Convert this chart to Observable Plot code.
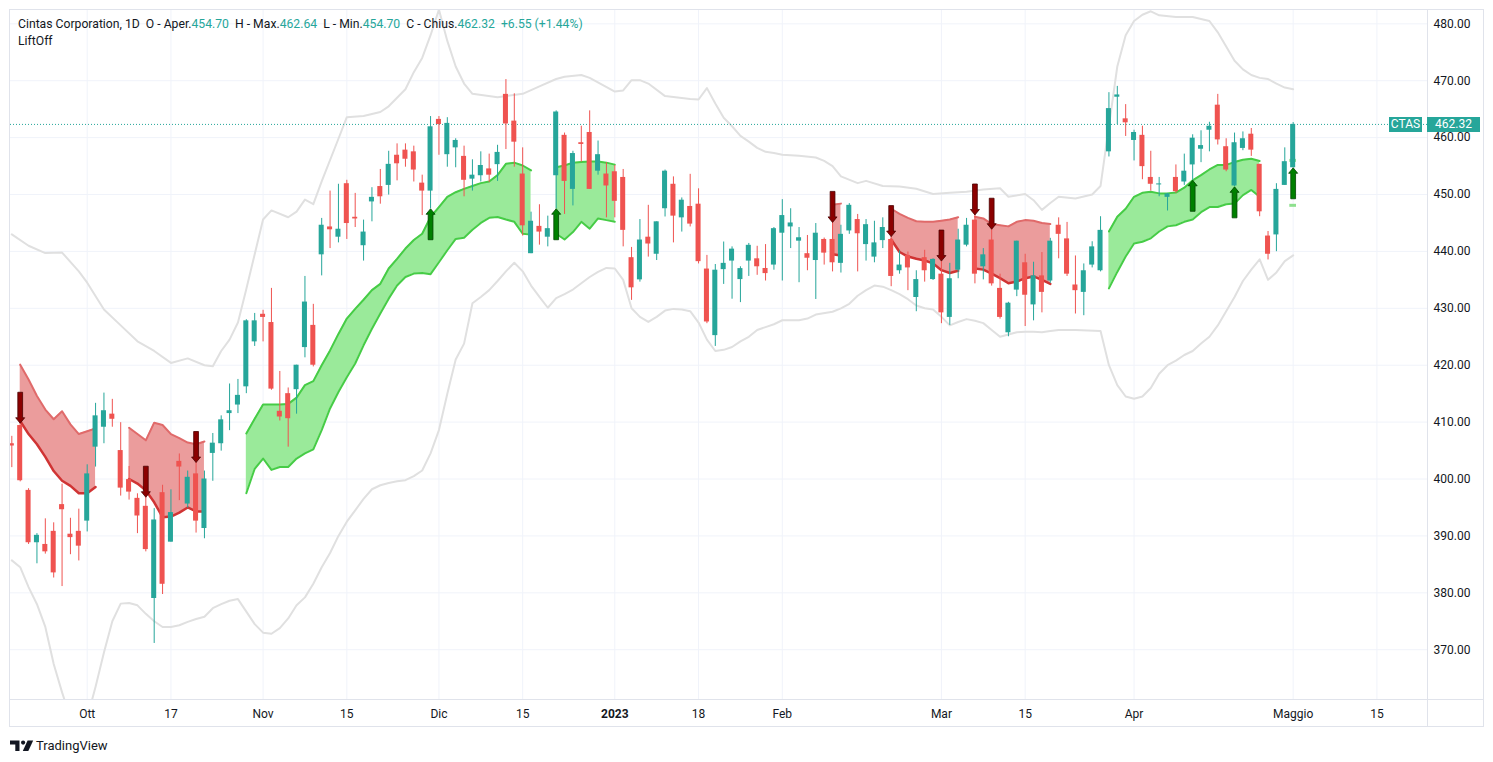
<!DOCTYPE html>
<html>
<head>
<meta charset="utf-8">
<script src="https://cdn.jsdelivr.net/npm/d3@7"></script>
<script src="https://cdn.jsdelivr.net/npm/@observablehq/plot@0.6"></script>
<style>
  html, body { margin: 0; padding: 0; background: #ffffff; }
  body { font-family: Roboto, "Liberation Sans", sans-serif; color: #131722; }
  #wrap { position: relative; width: 1493px; height: 762px; overflow: hidden; }
  #chart { position: absolute; left: 0; top: 0; }
  .ov { position: absolute; }
  #legend { left: 18px; top: 16px; font-size: 12.2px; line-height: 17px; white-space: pre; }
  #legend .v { color: #26a69a; }
  .lbl { background: #26a69a; color: #fff; font-size: 12px; height: 15px; line-height: 15px; text-align: center; top: 117px; }
  .hl { background: #e0e3eb; }
  #logo { left: 10px; top: 738px; display: flex; align-items: center; font-size: 13px; }
</style>
</head>
<body>
<div id="wrap">
  <div id="chart"></div>
  <div class="ov hl" style="left:9px;top:9px;width:1475px;height:1px"></div>
  <div class="ov hl" style="left:9px;top:726px;width:1475px;height:1px"></div>
  <div class="ov hl" style="left:9px;top:9px;width:1px;height:718px"></div>
  <div class="ov hl" style="left:1483px;top:9px;width:1px;height:718px"></div>
  <div class="ov hl" style="left:1427px;top:9px;width:1px;height:718px"></div>
  <div class="ov hl" style="left:9px;top:699px;width:1475px;height:1px"></div>
  <div id="legend" class="ov"></div>
  <div id="symLbl" class="ov lbl" style="left:1389px;width:33px"></div>
  <div id="priceLbl" class="ov lbl" style="left:1427px;width:53px"></div>
  <div id="logo" class="ov">
    <svg width="24" height="12" viewBox="0 0 24 12"><path d="M0 0.5h9.5v10.5H5.3V4.4H0z" fill="#131722"/><circle cx="13.1" cy="2.6" r="2.1" fill="#131722"/><path d="M17.6 0.5H23.2L18.3 11H12.8z" fill="#131722"/></svg>
    <span style="margin-left:2px">TradingView</span>
  </div>
</div>
<script>
// ---------- sessions (trading days) ----------
const sessionMonths = [
  ["2022-09", "20 21 22 23 26 27 28 29 30"],
  ["2022-10", "3 4 5 6 7 10 11 12 13 14 17 18 19 20 21 24 25 26 27 28 31"],
  ["2022-11", "1 2 3 4 7 8 9 10 11 14 15 16 17 18 21 22 23 25 28 29 30"],
  ["2022-12", "1 2 5 6 7 8 9 12 13 14 15 16 19 20 21 22 23 27 28 29 30"],
  ["2023-01", "3 4 5 6 9 10 11 12 13 17 18 19 20 23 24 25 26 27 30 31"],
  ["2023-02", "1 2 3 6 7 8 9 10 13 14 15 16 17 21 22 23 24 27 28"],
  ["2023-03", "1 2 3 6 7 8 9 10 13 14 15 16 17 20 21 22 23 24 27 28 29 30 31"],
  ["2023-04", "3 4 5 6 10 11 12 13 14 17 18 19 20 21 24 25 26 27 28"],
  ["2023-05", "1"]
];
const futureSessions = [["2023-05", "2 3 4 5 8 9 10 11 12 15"]];
const expand = list => list.flatMap(([m, days]) => days.split(" ").map(d => `${m}-${d.padStart(2, "0")}`));
const dates = expand(sessionMonths);
const axisDates = dates.concat(expand(futureSessions));
const anchorDate = "2022-10-03";
const offset = axisDates.indexOf(anchorDate);
const sessionOf = new Map(axisDates.map((d, k) => [d, k - offset]));

// ---------- OHLC (Sep 20 2022 .. May 1 2023) ----------
const opens = [
  406.2, 409.4, 398.0, 388.8, 388.5, 390.8, 395.5, 390.3, 390.8,
  392.6, 405.6, 409.1, 411.4, 405.0, 399.9, 396.6, 395.2, 379.0, 397.6,
  388.9, 403.1, 395.6, 400.9, 391.3, 404.5, 406.2, 411.5, 413.0, 416.2,
  424.1, 428.95, 427.5, 411.9, 415.0, 415.7, 423.1, 427.0, 439.4, 444.3,
  442.5, 451.9, 446.0, 441.0, 448.7, 451.4, 451.6, 456.9, 457.8, 457.5,
  452.0, 450.6, 463.2, 457.0, 458.2, 456.7, 452.7, 453.3, 454.5, 455.25,
  467.6, 462.9, 453.6, 439.6, 444.4, 442.5, 453.3, 460.4, 450.9, 459.1,
  460.9, 454.1, 453.6, 454.0, 453.0, 438.9, 435.0, 442.5, 439.5, 447.5,
  451.8, 445.9, 447.9, 448.3, 436.9, 425.2, 436.8, 438.3, 435.05, 438.3,
  438.7, 437.0, 437.6, 443.2, 444.3, 441.8, 439.6, 438.4, 442.1, 442.1,
  437.9, 443.6, 445.6, 441.2, 439.0, 441.9, 442.1, 436.6, 439.3, 431.9,
  438.9, 435.05, 436.0, 428.4, 436.7, 441.1, 445.5, 437.3, 442.0, 433.5,
  425.7, 433.2, 438.0, 430.6, 435.7, 434.8, 444.6, 442.2, 434.1, 432.8,
  437.6, 436.6, 457.5, 467.1, 463.3, 459.5, 460.4, 453.0, 451.7, 449.5,
  453.0, 452.2, 455.2, 457.96, 461.3, 465.7, 458.4, 451.5, 458.1, 460.6,
  455.3, 442.7, 442.9, 451.6, 454.70
];
const highs = [
  407.5, 409.8, 398.3, 390.4, 393.0, 392.3, 399.1, 393.1, 394.7,
  402.5, 413.3, 415.1, 414.0, 409.9, 402.2, 397.4, 396.8, 394.8, 398.9,
  398.1, 404.4, 401.4, 402.9, 401.4, 408.0, 411.1, 416.7, 417.5, 428.0,
  429.1, 429.65, 433.5, 418.9, 416.0, 420.0, 435.6, 430.7, 445.8, 450.6,
  451.8, 452.5, 450.2, 445.5, 451.2, 454.4, 457.6, 458.9, 458.9, 458.5,
  453.4, 463.7, 463.7, 463.5, 459.8, 458.5, 456.1, 457.5, 457.1, 458.65,
  470.2, 467.7, 458.2, 446.9, 448.2, 446.2, 464.7, 460.8, 457.6, 462.0,
  464.7, 459.4, 455.6, 455.1, 454.4, 440.7, 445.6, 448.1, 445.2, 454.3,
  453.1, 449.4, 453.55, 451.0, 439.3, 437.7, 441.65, 440.8, 437.3, 441.4,
  440.9, 441.2, 444.2, 449.1, 447.5, 444.2, 442.8, 444.9, 442.35, 445.1,
  444.6, 448.4, 446.5, 445.6, 445.3, 445.9, 442.6, 440.1, 439.9, 436.6,
  440.2, 438.7, 438.3, 437.9, 443.9, 445.8, 446.4, 440.5, 443.9, 436.0,
  431.06, 441.8, 439.5, 438.1, 439.8, 442.3, 445.9, 445.1, 439.2, 437.8,
  441.7, 446.1, 467.9, 469.0, 465.8, 461.3, 462.0, 457.6, 453.0, 450.2,
  455.2, 457.1, 460.5, 461.2, 462.7, 467.6, 459.8, 460.8, 461.0, 461.6,
  455.3, 443.5, 451.9, 458.2, 462.64
];
const lows = [
  402.0, 399.5, 388.5, 385.1, 386.8, 382.6, 381.1, 386.7, 385.6,
  390.7, 402.1, 406.2, 409.1, 397.0, 396.3, 390.4, 387.2, 371.1, 379.7,
  388.9, 396.2, 394.9, 390.5, 389.5, 399.6, 404.9, 408.5, 411.5, 415.0,
  423.3, 424.1, 415.6, 410.2, 405.6, 411.4, 421.3, 419.7, 435.7, 440.5,
  441.5, 442.1, 444.2, 438.3, 445.2, 448.3, 449.9, 452.4, 454.8, 452.2,
  446.3, 447.5, 456.9, 454.8, 454.7, 449.6, 450.6, 452.2, 452.1, 452.3,
  457.9, 454.8, 442.7, 439.6, 441.1, 440.8, 447.5, 446.5, 448.0, 455.7,
  450.9, 453.4, 445.9, 445.9, 440.8, 431.4, 434.6, 439.0, 438.4, 446.05,
  441.5, 443.4, 444.3, 437.8, 427.3, 423.3, 434.2, 431.6, 431.0, 435.6,
  435.8, 434.8, 436.7, 434.8, 440.5, 434.5, 436.6, 431.55, 437.6, 436.4,
  436.2, 443.0, 436.4, 438.3, 438.0, 440.5, 433.8, 436.0, 433.1, 429.4,
  434.6, 434.9, 427.3, 427.0, 435.2, 440.8, 434.3, 435.0, 433.9, 428.1,
  425.0, 432.05, 426.8, 427.8, 429.2, 434.4, 438.7, 435.6, 429.0, 428.7,
  437.1, 436.4, 456.6, 462.3, 460.2, 455.9, 452.6, 450.6, 449.6, 447.1,
  450.2, 451.6, 452.5, 455.6, 457.5, 458.7, 454.0, 451.35, 457.7, 456.7,
  446.1, 438.5, 439.95, 451.6, 454.70
];
const closes = [
  405.8, 399.7, 388.8, 390.1, 387.2, 383.5, 394.6, 389.7, 388.2,
  400.9, 411.1, 412.0, 410.5, 398.4, 397.7, 393.5, 387.6, 392.8, 381.5,
  394.1, 402.1, 400.3, 392.6, 400.0, 406.3, 410.4, 412.0, 414.7, 427.8,
  427.8, 428.4, 415.8, 410.9, 410.6, 420.0, 431.1, 420.0, 444.6, 443.8,
  443.9, 444.9, 445.7, 443.4, 449.5, 449.6, 455.3, 455.4, 456.2, 454.3,
  450.6, 461.9, 462.3, 462.5, 459.5, 452.5, 453.4, 455.1, 453.4, 457.4,
  462.4, 459.2, 444.5, 445.3, 443.4, 444.0, 464.5, 452.3, 457.2, 458.8,
  450.9, 457.0, 451.5, 448.8, 443.7, 433.6, 442.0, 441.3, 445.2, 454.1,
  446.2, 449.0, 444.8, 438.2, 427.6, 436.7, 437.9, 440.4, 436.98, 441.07,
  437.3, 436.1, 444.0, 446.3, 445.0, 442.4, 438.8, 443.2, 439.7, 438.0,
  443.0, 448.1, 443.1, 444.7, 441.5, 444.2, 435.6, 437.6, 437.1, 435.05,
  436.6, 438.6, 429.2, 435.2, 442.0, 444.6, 436.0, 439.4, 434.3, 428.4,
  430.9, 441.8, 432.3, 435.7, 432.8, 441.8, 443.0, 436.0, 433.1, 436.6,
  440.8, 443.7, 465.1, 467.5, 462.6, 460.9, 454.9, 451.8, 451.85, 450.1,
  450.5, 454.1, 459.9, 458.6, 462.0, 459.6, 454.3, 459.1, 459.8, 457.8,
  446.96, 439.5, 450.9, 455.77, 462.32
];

// ---------- grey envelope: [session offset from 2022-10-03, price] ----------
const upperEnvelope = [
  [-9,443.0],[-7,441.0],[-5,439.7],[-3,439.8],[-1,436.5],[0,434.5],[2,429.8],[4,427.0],[6,424.2],[8,422.5],
  [10,420.4],[12,421.2],[14,420.0],[15,419.8],[16,422.5],[17,424.5],[18,427.5],[19,433.4],[20,439.5],[21,445.6],
  [22,447.2],[24,446.0],[25,447.0],[26,449.1],[27,448.3],[28,452.3],[30,459.8],[31,463.6],[33,463.8],[35,464.5],
  [36,465.5],[37,467.0],[38,468.5],[39,471.5],[40,474.0],[41,478.0],[42,482.5],[43,477.0],[44,472.5],[45,469.5],
  [46,467.7],[49,467.1],[52,467.7],[54,469.0],[56,470.3],[57,470.7],[59,471.0],[60,470.5],[63,468.1],[64,468.3],
  [65,470.1],[66,470.1],[67,469.5],[69,467.3],[72,466.8],[73,466.7],[74,468.7],[75,466.0],[76,463.5],[77,462.0],
  [78,460.3],[79,459.3],[80,458.2],[81,457.5],[82,457.3],[83,457.0],[85,456.8],[87,456.5],[88,455.9],[89,455.0],
  [90,453.2],[92,452.0],[93,452.4],[95,451.5],[97,451.4],[99,451.0],[101,450.1],[103,450.3],[105,450.5],[107,450.9],
  [109,451.1],[110,449.6],[112,450.1],[113,449.0],[114,447.3],[115,448.5],[116,449.6],[118,449.3],[120,450.0],[121,451.5],
  [122,462.0],[123,472.5],[124,478.0],[125,480.5],[126,481.6],[127,482.2],[128,481.5],[130,481.2],[132,481.2],[134,480.5],
  [135,478.5],[136,476.0],[137,473.5],[138,472.0],[139,471.0],[140,470.5],[141,470.3],[142,469.5],[143,468.8],[144,468.5]
];
const lowerEnvelope = [
  [-9,385.7],[-8,384.5],[-7,381.0],[-6,378.0],[-5,374.0],[-4,367.5],[-3,362.5],[-2,358.0],[-1,356.0],[0,358.0],
  [1,363.5],[2,369.5],[3,375.0],[4,378.1],[5,378.2],[6,377.8],[7,376.3],[8,375.0],[9,374.0],[10,374.0],
  [11,374.3],[12,374.9],[13,375.4],[14,375.8],[15,377.3],[16,378.0],[17,378.6],[18,378.9],[19,376.7],[20,374.5],
  [21,373.0],[22,372.8],[23,373.8],[24,375.5],[25,377.8],[26,379.2],[27,381.6],[28,384.5],[29,387.0],[30,390.0],
  [31,392.5],[32,394.5],[33,396.5],[34,398.2],[35,398.9],[36,399.3],[37,399.6],[38,399.8],[39,400.5],[40,401.5],
  [41,404.5],[42,408.6],[43,415.0],[44,421.0],[45,423.8],[46,430.9],[47,432.0],[48,433.2],[49,434.8],[50,436.5],
  [51,438.0],[52,436.5],[53,434.0],[54,432.0],[55,430.1],[56,431.8],[57,432.5],[58,433.3],[59,434.4],[60,435.5],
  [61,436.4],[62,437.1],[63,437.0],[64,435.0],[65,430.0],[66,428.5],[67,427.6],[68,428.5],[69,429.6],[70,429.9],
  [71,429.8],[72,429.5],[73,427.5],[74,424.5],[75,422.5],[76,422.7],[77,423.2],[78,424.2],[79,425.0],[80,426.2],
  [81,426.7],[82,427.2],[83,427.9],[85,427.9],[86,428.2],[87,428.9],[89,429.4],[90,430.0],[91,430.8],[92,432.2],
  [93,433.2],[94,434.0],[95,433.8],[96,433.2],[97,432.5],[98,431.6],[99,430.5],[100,430.0],[101,429.8],[102,428.5],
  [103,427.0],[104,427.6],[105,428.1],[106,427.8],[107,427.4],[108,426.2],[109,425.0],[110,425.4],[111,425.8],[112,425.9],
  [113,425.9],[114,425.8],[115,426.0],[116,426.2],[118,426.2],[121,426.0],[122,420.0],[123,416.5],[124,414.5],[125,414.1],
  [126,414.5],[127,416.0],[128,418.5],[129,420.0],[130,420.8],[131,421.8],[132,422.5],[133,423.8],[134,425.0],[135,427.0],
  [136,429.5],[137,432.0],[138,434.8],[139,436.8],[140,438.6],[141,435.0],[142,436.3],[143,438.3],[144,439.3]
];

// ---------- LiftOff bands ----------
const redBands = [
  { start: "2022-09-21", upper: [420.1,417.5,414.6,412.2,410.5,411.9,409.6,407.9,408.4,408.9], lower: [410.2,407.9,406.1,403.9,401.4,399.7,398.8,397.5,397.5,398.6] },
  { start: "2022-10-10", upper: [409.0,407.9,406.8,409.9,409.5,407.9,407.2,406.4,406.1,406.6], lower: [400.0,399.2,398.0,395.9,393.3,393.4,394.1,395.0,394.3,394.3] },
  { start: "2023-02-09", upper: [448.2,448.4], lower: [439.5,439.3] },
  { start: "2023-02-21", upper: [447.5,446.6,445.9,445.3,445.2,445.2,445.4,445.6,446.0], lower: [442.1,439.9,439.1,438.7,438.4,437.9,436.7,436.2,436.6] },
  { start: "2023-03-07", upper: [446.1,445.8,444.8,444.6,444.4,445.2,445.5,445.4,445.0,444.8], lower: [437.0,436.8,436.1,435.3,434.4,434.7,435.3,435.6,435.0,434.3] }
];
const greenBands = [
  { start: "2022-10-28",
    upper: [408.0,410.6,413.1,413.1,413.1,413.2,414.3,416.5,417.2,420.0,422.6,425.5,428.2,429.9,431.5,433.2,434.3,437.0,438.7,440.5,442.0,443.1,446.05,447.8,449.6,450.4,451.0,451.5,452.0,452.3,453.4,455.4,455.6,455.1,454.25],
    lower: [397.5,401.8,403.6,401.6,402.1,402.1,403.6,404.5,405.2,408.6,412.4,415.3,417.9,420.3,423.5,426.4,429.1,431.7,434.0,435.5,436.1,436.2,436.0,438.1,440.2,442.2,442.4,443.8,445.0,445.9,446.05,445.6,445.2,443.1,442.95] },
  { start: "2022-12-21", upper: [454.8,455.1,455.6,455.7,455.8,455.8,455.6,455.25], lower: [443.1,442.1,443.4,445.2,444.0,445.8,445.5,445.2] },
  { start: "2023-03-29",
    upper: [443.5,446.1,447.5,449.6,450.3,450.5,450.2,450.2,450.35,451.2,452.5,453.4,454.4,455.2,455.2,455.7,456.1,456.3,455.9],
    lower: [433.5,436.4,439.1,441.4,441.7,442.3,443.5,444.4,444.6,445.2,445.6,446.9,447.8,447.8,448.3,448.4,449.9,450.8,449.6] }
];
const greenStub = { date: "2023-05-01", upper: 456.0, lower: 448.1 };
const sellSignals = ["2022-09-21","2022-10-12","2022-10-20","2023-02-09","2023-02-21","2023-03-01","2023-03-07","2023-03-09"];
const buySignals = ["2022-11-30","2022-12-21","2023-04-13","2023-04-20","2023-05-01"];

// ---------- axes ----------
const tickLabels = ["Ott","17","Nov","15","Dic","15","2023","18","Feb","Mar","15","Apr","Maggio","15"];
const tickDates = ["2022-10-03","2022-10-17","2022-11-01","2022-11-15","2022-12-01","2022-12-15","2023-01-03","2023-01-18","2023-02-01","2023-03-01","2023-03-15","2023-04-03","2023-05-01","2023-05-15"];
const priceTicks = [370, 380, 390, 400, 410, 420, 430, 440, 450, 460, 470, 480];
const symbol = "CTAS";
const title = "Cintas Corporation, 1D";
const indicatorName = "LiftOff";

// ---------- build ----------
const TEAL = "#26a69a", RED = "#ef5350";
const candles = dates.map((date, k) => ({
  date, i: sessionOf.get(date), open: opens[k], high: highs[k], low: lows[k], close: closes[k]
}));
const bodyLo = d => { const lo = Math.min(d.open, d.close), hi = Math.max(d.open, d.close); return hi - lo < 0.18 ? (lo + hi) / 2 - 0.09 : lo; };
const bodyHi = d => { const lo = Math.min(d.open, d.close), hi = Math.max(d.open, d.close); return hi - lo < 0.18 ? (lo + hi) / 2 + 0.09 : hi; };
const colorOf = d => d.close >= d.open ? TEAL : RED;

const bandRows = (bands, kind) => bands.flatMap((b, s) => {
  const i0 = sessionOf.get(b.start);
  return b.upper.map((u, j) => ({ seg: kind + s, i: i0 + j, hi: u, lo: b.lower[j] }));
});
const redRows = bandRows(redBands, "r");
const greenRows = bandRows(greenBands, "g");
const envRows = upperEnvelope.map(([i, v]) => ({ i, v, z: "u" })).concat(lowerEnvelope.map(([i, v]) => ({ i, v, z: "l" })));
const byDate = new Map(candles.map(d => [d.date, d]));
const sells = sellSignals.map(d => byDate.get(d));
const buys = buySignals.map(d => byDate.get(d));
const stub = [{ i: sessionOf.get(greenStub.date), y: greenStub.upper }, { i: sessionOf.get(greenStub.date), y: greenStub.lower }];

const tickIdx = tickDates.map(d => sessionOf.get(d));
const labelOf = new Map(tickIdx.map((t, k) => [t, tickLabels[k]]));
const yearIdx = tickIdx.filter(t => /^\d{4}$/.test(labelOf.get(t)));
const plainIdx = tickIdx.filter(t => !/^\d{4}$/.test(labelOf.get(t)));

const downArrow = { draw(ctx) {
  ctx.moveTo(0, 0); ctx.lineTo(-4.5, -5.5); ctx.lineTo(-2.4, -5.5); ctx.lineTo(-2.4, -31);
  ctx.lineTo(2.4, -31); ctx.lineTo(2.4, -5.5); ctx.lineTo(4.5, -5.5); ctx.closePath();
} };
const upArrow = { draw(ctx) {
  ctx.moveTo(0, 0); ctx.lineTo(-4.5, 5.5); ctx.lineTo(-2.4, 5.5); ctx.lineTo(-2.4, 31);
  ctx.lineTo(2.4, 31); ctx.lineTo(2.4, 5.5); ctx.lineTo(4.5, 5.5); ctx.closePath();
} };

const last = candles[candles.length - 1];
const prev = candles[candles.length - 2];

const chart = Plot.plot({
  width: 1493, height: 762,
  marginLeft: 10, marginRight: 66, marginTop: 10, marginBottom: 63,
  style: { fontFamily: "Roboto, 'Liberation Sans', sans-serif", fontSize: "12px", color: "#131722", background: "transparent", overflow: "visible" },
  x: { type: "linear", domain: [-9.158, 160.04], label: null },
  y: { domain: [361.25, 482.34], label: null },
  marks: [
    Plot.gridY(priceTicks, { stroke: "#f0f3fa", strokeOpacity: 1 }),
    Plot.gridX(tickIdx, { stroke: "#f0f3fa", strokeOpacity: 1 }),
    Plot.line(envRows, { x: "i", y: "v", z: "z", stroke: "#e0e0e0", strokeWidth: 2, clip: true }),
    Plot.areaY(redRows, { x: "i", y1: "lo", y2: "hi", z: "seg", fill: "#eb9c9c", clip: true }),
    Plot.lineY(redRows, { x: "i", y: "hi", z: "seg", stroke: "#e06a6a", strokeWidth: 2 }),
    Plot.lineY(redRows, { x: "i", y: "lo", z: "seg", stroke: "#d03434", strokeWidth: 2.5 }),
    Plot.areaY(greenRows, { x: "i", y1: "lo", y2: "hi", z: "seg", fill: "#9aea9a", clip: true }),
    Plot.lineY(greenRows, { x: "i", y: "hi", z: "seg", stroke: "#46cc46", strokeWidth: 2 }),
    Plot.lineY(greenRows, { x: "i", y: "lo", z: "seg", stroke: "#46cc46", strokeWidth: 2 }),
    Plot.ruleY(stub, { y: "y", x1: d => d.i - 0.4, x2: d => d.i + 0.4, stroke: "#8ee08e", strokeWidth: 3 }),
    Plot.ruleY([last.close], { stroke: TEAL, strokeWidth: 1, strokeDasharray: "1,2" }),
    Plot.ruleX(candles, { x: "i", y1: "low", y2: "high", stroke: colorOf, strokeWidth: 1, clip: true }),
    Plot.rect(candles, { x1: d => d.i - 0.3, x2: d => d.i + 0.3, y1: bodyLo, y2: bodyHi, fill: colorOf, clip: true }),
    Plot.dot(sells, { x: "i", y: "high", symbol: downArrow, fill: "#8b0000", stroke: "#4a0000", strokeWidth: 0.8 }),
    Plot.dot(buys, { x: "i", y: "low", symbol: upArrow, fill: "#008000", stroke: "#004400", strokeWidth: 0.8 }),
    Plot.axisY(priceTicks, { anchor: "right", label: null, tickSize: 0, tickPadding: 6, tickFormat: d => d.toFixed(2), fontSize: 12 }),
    Plot.axisX(plainIdx, { anchor: "bottom", label: null, tickSize: 0, tickPadding: 10, tickFormat: t => labelOf.get(t), fontSize: 12 }),
    Plot.axisX(yearIdx, { anchor: "bottom", label: null, tickSize: 0, tickPadding: 10, tickFormat: t => labelOf.get(t), fontSize: 12, fontWeight: "bold" })
  ]
});
document.getElementById("chart").appendChild(chart);

// ---------- legend & labels ----------
const chg = last.close - prev.close;
const pct = chg / prev.close * 100;
const f = v => v.toFixed(2);
const sign = v => (v >= 0 ? "+" : "") + f(v);
document.getElementById("legend").innerHTML =
  `<div>${title}  O - Aper.<span class="v">${f(last.open)}</span>  H - Max.<span class="v">${f(last.high)}</span>  L - Min.<span class="v">${f(last.low)}</span>  C - Chius.<span class="v">${f(last.close)}</span>  <span class="v">${sign(chg)} (${sign(pct)}%)</span></div><div>${indicatorName}</div>`;
document.getElementById("symLbl").textContent = symbol;
document.getElementById("priceLbl").textContent = f(last.close);
</script>
</body>
</html>
